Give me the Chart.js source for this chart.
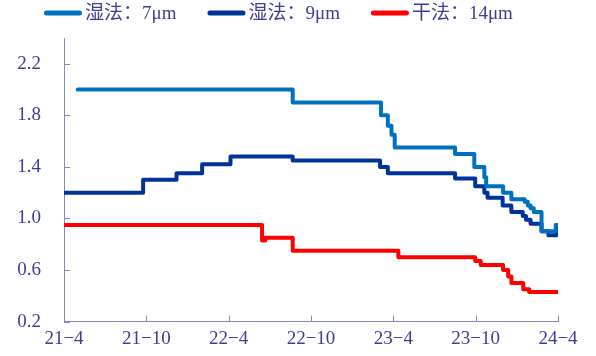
<!DOCTYPE html>
<html>
<head>
<meta charset="utf-8">
<script src="https://cdn.jsdelivr.net/npm/chart.js@4.4.1/dist/chart.umd.min.js"></script>
<style>
  html, body { margin: 0; padding: 0; background: #ffffff; }
  #wrap { width: 596px; height: 356px; }
</style>
</head>
<body>
<div id="wrap"><canvas id="c"></canvas></div>
<script>
// Separator price series (元/㎡), one value per price change date.
const seriesNames = ['湿法：7μm', '湿法：9μm', '干法：14μm'];

const wet7Dates = ['2021-05-01', '2022-08-21', '2023-03-04', '2023-03-19', '2023-03-27', '2023-04-04',
  '2023-08-16', '2023-09-28', '2023-10-20', '2023-10-24', '2023-12-01', '2023-12-19',
  '2024-01-18', '2024-01-25', '2024-02-01', '2024-02-08', '2024-02-25', '2024-03-26', '2024-04-01'];
const wet7Values = [2.00, 1.90, 1.80, 1.72, 1.65, 1.55,
  1.50, 1.40, 1.32, 1.25, 1.20, 1.15,
  1.13, 1.10, 1.08, 1.05, 0.90, 0.95, 0.95];

const wet9Dates = ['2021-04-01', '2021-09-24', '2021-12-07', '2022-02-03', '2022-04-05', '2022-08-21',
  '2023-03-02', '2023-03-19', '2023-08-16', '2023-09-30', '2023-10-20', '2023-10-27',
  '2023-11-30', '2023-12-19', '2024-01-14', '2024-01-21', '2024-01-31', '2024-02-25',
  '2024-03-10', '2024-03-28', '2024-04-01'];
const wet9Values = [1.20, 1.30, 1.35, 1.42, 1.48, 1.45,
  1.40, 1.35, 1.31, 1.25, 1.20, 1.16,
  1.10, 1.05, 1.02, 0.99, 0.96, 0.90,
  0.87, 0.93, 0.93];

const dry14Dates = ['2021-04-01', '2022-06-14', '2022-06-21', '2022-08-21', '2023-04-12', '2023-09-30',
  '2023-10-12', '2023-12-01', '2023-12-12', '2023-12-19', '2024-01-15', '2024-01-28', '2024-04-01'];
const dry14Values = [0.95, 0.83, 0.85, 0.75, 0.70, 0.67,
  0.64, 0.60, 0.55, 0.50, 0.45, 0.43, 0.43];

// Axis ticks
const xTickLabels = ['21−4', '21−10', '22−4', '22−10', '23−4', '23−10', '24−4'];
const yTickValues = [0.2, 0.6, 1.0, 1.4, 1.8, 2.2];

const seriesColors = ['#0070C0', '#003399', '#FF0000'];
const axisColor = '#8686C6';
const textColor = '#3D3D94';
const fontFamily = "'Liberation Serif', 'Times New Roman', 'Noto Sans CJK SC', serif";

// Months elapsed since April 2021, used as the linear x value
function monthOffset(s) {
  const [y, m, d] = s.split('-').map(Number);
  return (y - 2021) * 12 + (m - 4) + (d - 1) / 30;
}
function toPoints(dates, values) {
  return dates.map((d, i) => ({ x: monthOffset(d), y: values[i] }));
}

const allDates = [wet7Dates, wet9Dates, dry14Dates];
const allValues = [wet7Values, wet9Values, dry14Values];

const datasets = seriesNames.map((name, i) => ({
  label: name,
  data: toPoints(allDates[i], allValues[i]),
  borderColor: seriesColors[i],
  backgroundColor: seriesColors[i],
  borderWidth: 4,
  pointRadius: 0,
  stepped: true,
  borderJoinStyle: 'round',
  borderCapStyle: 'round',
  tension: 0
}));

// Short tick marks pointing into the plot area
const inwardTicks = {
  id: 'inwardTicks',
  beforeDatasetsDraw(chart) {
    const { ctx, chartArea: a, scales: { x, y } } = chart;
    ctx.save();
    ctx.strokeStyle = axisColor;
    ctx.lineWidth = 1;
    ctx.beginPath();
    y.ticks.forEach((t, i) => {
      const py = Math.round(y.getPixelForTick(i)) + 0.5;
      ctx.moveTo(a.left, py);
      ctx.lineTo(a.left + 6, py);
    });
    x.ticks.forEach((t, i) => {
      const px = Math.round(x.getPixelForTick(i)) + 0.5;
      ctx.moveTo(px, a.bottom);
      ctx.lineTo(px, a.bottom - 6);
    });
    ctx.stroke();
    ctx.restore();
  }
};

// Series key across the top: short line sample followed by the series name
const seriesKey = {
  id: 'seriesKey',
  afterDraw(chart) {
    const ctx = chart.ctx;
    ctx.save();
    ctx.font = '19px ' + fontFamily;
    ctx.textBaseline = 'middle';
    ctx.textAlign = 'left';
    let x = 44;
    const y = 13;
    chart.data.datasets.forEach((ds) => {
      ctx.strokeStyle = ds.borderColor;
      ctx.lineWidth = 5;
      ctx.lineCap = 'round';
      ctx.beginPath();
      ctx.moveTo(x + 2.5, y);
      ctx.lineTo(x + 35.5, y);
      ctx.stroke();
      ctx.fillStyle = textColor;
      ctx.fillText(ds.label, x + 41, y + 1);
      x += 41 + ctx.measureText(ds.label).width + 31;
    });
    ctx.restore();
  }
};

new Chart(document.getElementById('c'), {
  type: 'line',
  data: { datasets },
  plugins: [inwardTicks, seriesKey],
  options: {
    responsive: true,
    maintainAspectRatio: false,
    animation: false,
    layout: { padding: { top: 38, right: 38, bottom: 0, left: 0 } },
    plugins: {
      tooltip: { enabled: false },
      legend: { display: false }
    },
    scales: {
      x: {
        type: 'linear',
        min: 0,
        max: 36,
        grid: { display: false, drawTicks: false },
        border: { display: true, color: axisColor, width: 1 },
        afterFit(s) { s.height = 32; },
        ticks: {
          stepSize: 6,
          padding: 6,
          maxRotation: 0,
          color: textColor,
          font: { family: fontFamily, size: 19 },
          callback: (v) => xTickLabels[Math.round(v / 6)]
        }
      },
      y: {
        min: 0.2,
        max: 2.4,
        grid: { display: false, drawTicks: false },
        border: { display: true, color: axisColor, width: 1 },
        afterFit(s) { s.width = 64; },
        afterBuildTicks(s) { s.ticks = yTickValues.map(v => ({ value: v })); },
        ticks: {
          padding: 23,
          color: textColor,
          font: { family: fontFamily, size: 19 },
          callback: (v) => Number(v).toFixed(1)
        }
      }
    }
  }
});
</script>
</body>
</html>
